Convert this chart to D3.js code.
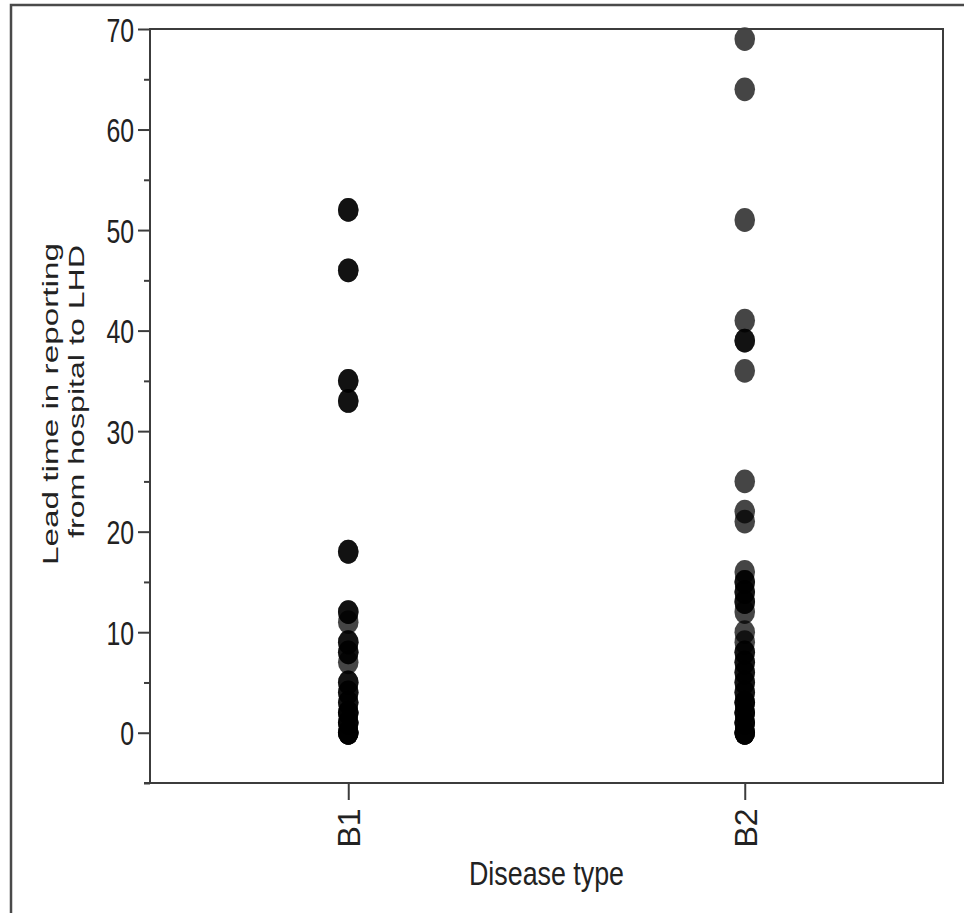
<!DOCTYPE html>
<html>
<head>
<meta charset="utf-8">
<script src="https://d3js.org/d3.v7.min.js"></script>
<style>
  body { margin: 0; background: #fff; }
  text { font-family: "Liberation Sans", Arial, sans-serif; fill: #222; }
</style>
</head>
<body>
<script>
  // categories and the lead times (repeated values = overlapping dots)
  var categories = ["B1", "B2"];
  var leadB1 = [0, 0, 0, 0, 1, 1, 1, 2, 2, 2, 3, 3, 4, 4, 5, 5, 7, 8, 8, 9, 9,
    11, 12, 12, 18, 18, 33, 33, 35, 35, 46, 46, 52, 52];
  var leadB2 = [0, 0, 0, 0, 1, 1, 1, 2, 2, 2, 3, 3, 3, 4, 4, 5, 5, 6, 6, 7, 7, 8, 8, 9,
    10, 12, 13, 13, 14, 14, 15, 15, 16, 21, 22, 25, 36, 39, 39, 41, 51, 64, 69];
  var yTicks = [0, 10, 20, 30, 40, 50, 60, 70];
  var yMinorTicks = [-5, 5, 15, 25, 35, 45, 55, 65];
  var xTitle = "Disease type";
  var yTitle = ["Lead time in reporting", "from hospital to LHD"];

  var W = 964, H = 913;
  var pLeft = 150, pRight = 943, pTop = 29, pBottom = 783;
  var lineCol = "#3c3c3c";

  var svg = d3.select("body").append("svg")
    .attr("width", W)
    .attr("height", H);

  var x = d3.scalePoint().domain(categories).range([pLeft, pRight]).padding(0.5);
  var y = d3.scaleLinear().domain([-5, 70]).range([pBottom, pTop]);

  // outer frame (only top and left edges are inside the picture)
  svg.append("path")
    .attr("d", "M11,913 L11,5 L964,5")
    .attr("fill", "none")
    .attr("stroke", "#4a4a4a")
    .attr("stroke-width", 2.5);

  // points
  var points = [];
  leadB1.forEach(function (v) { points.push({ cat: "B1", v: v }); });
  leadB2.forEach(function (v) { points.push({ cat: "B2", v: v }); });

  svg.append("g")
    .selectAll("ellipse")
    .data(points)
    .enter()
    .append("ellipse")
    .attr("cx", function (d) { return x(d.cat); })
    .attr("cy", function (d) { return y(d.v); })
    .attr("rx", 10.3)
    .attr("ry", 11.9)
    .style("fill", "#000")
    .style("opacity", 0.73);

  // y axis, major ticks with labels
  var yAxis = svg.append("g")
    .attr("transform", "translate(" + pLeft + ",0)")
    .call(d3.axisLeft(y).tickValues(yTicks).tickSize(12).tickPadding(4));
  yAxis.select(".domain").remove();
  yAxis.selectAll("line").attr("stroke", lineCol).attr("stroke-width", 2);
  yAxis.selectAll("text")
    .attr("dy", null)
    .attr("y", 12)
    .style("font-size", "33px")
    .style("font-family", "'Liberation Sans', Arial, sans-serif")
    .attr("fill", "#222")
    .attr("textLength", function (d) { return String(d).length * 13.8; })
    .attr("lengthAdjust", "spacingAndGlyphs");

  // minor ticks
  var yMinor = svg.append("g")
    .attr("transform", "translate(" + pLeft + ",0)")
    .call(d3.axisLeft(y).tickValues(yMinorTicks).tickSize(6).tickFormat(""));
  yMinor.select(".domain").remove();
  yMinor.selectAll("line").attr("stroke", lineCol).attr("stroke-width", 2);

  // x axis ticks and rotated labels
  var xAxis = svg.append("g")
    .attr("transform", "translate(0," + pBottom + ")")
    .call(d3.axisBottom(x).tickSize(17).tickFormat(""));
  xAxis.select(".domain").remove();
  xAxis.selectAll("line").attr("stroke", lineCol).attr("stroke-width", 2);

  svg.append("g")
    .selectAll("text")
    .data(categories)
    .enter()
    .append("text")
    .attr("transform", function (d) { return "translate(" + (x(d) + 12) + ",847.5) rotate(-90)"; })
    .style("font-size", "32px")
    .text(function (d) { return d; });

  // plot box
  svg.append("rect")
    .attr("x", pLeft)
    .attr("y", pTop)
    .attr("width", pRight - pLeft)
    .attr("height", pBottom - pTop)
    .attr("fill", "none")
    .attr("stroke", lineCol)
    .attr("stroke-width", 2);
  // bottom axis line runs a little past the left axis
  svg.append("line")
    .attr("x1", pLeft - 6).attr("x2", pLeft)
    .attr("y1", pBottom).attr("y2", pBottom)
    .attr("stroke", lineCol).attr("stroke-width", 2);

  // axis titles
  svg.append("text")
    .attr("x", (pLeft + pRight) / 2)
    .attr("y", 885)
    .attr("text-anchor", "middle")
    .attr("textLength", 155)
    .attr("lengthAdjust", "spacingAndGlyphs")
    .style("font-size", "32.5px")
    .text(xTitle);

  svg.append("text")
    .attr("transform", "translate(58,243) rotate(-90)")
    .attr("text-anchor", "end")
    .attr("textLength", 322)
    .attr("lengthAdjust", "spacingAndGlyphs")
    .style("font-size", "22px")
    .text(yTitle[0]);
  svg.append("text")
    .attr("transform", "translate(84,245) rotate(-90)")
    .attr("text-anchor", "end")
    .attr("textLength", 293)
    .attr("lengthAdjust", "spacingAndGlyphs")
    .style("font-size", "22px")
    .text(yTitle[1]);
</script>
</body>
</html>
